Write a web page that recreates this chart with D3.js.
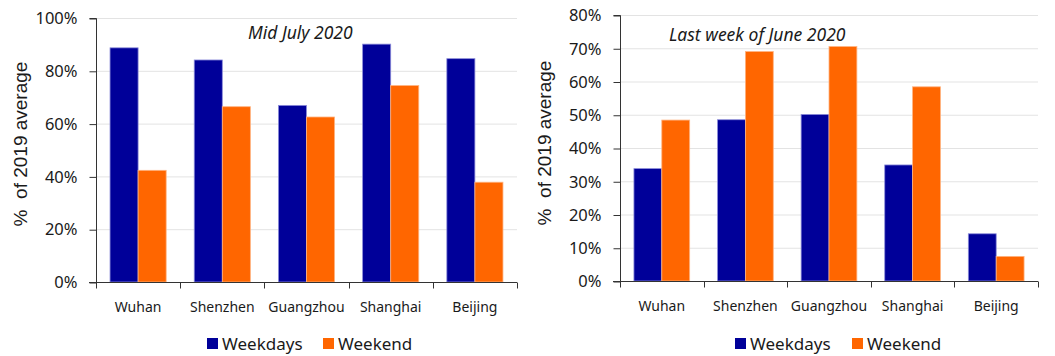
<!DOCTYPE html>
<html>
<head>
<meta charset="utf-8">
<script src="https://cdn.jsdelivr.net/npm/d3@7"></script>
<style>
  html, body { margin: 0; padding: 0; background: #fff; }
  svg { display: block; }
  .tick text { font-family: "Noto Sans", "Open Sans", sans-serif; fill: #1a1a1a; }
</style>
</head>
<body>
<svg id="chart" width="1055" height="356"></svg>
<script>
// Cities shared by both panels
const cities = ["Wuhan", "Shenzhen", "Guangzhou", "Shanghai", "Beijing"];
const seriesNames = ["Weekdays", "Weekend"];

// Mid July 2020, % of 2019 average
const julyWeekdays = [88.7, 84.1, 66.9, 90.1, 84.6];
const julyWeekend  = [42.3, 66.4, 62.5, 74.4, 37.8];

// Last week of June 2020, % of 2019 average
const juneWeekdays = [33.8, 48.5, 50.1, 34.9, 14.2];
const juneWeekend  = [48.4, 69.0, 70.5, 58.4, 7.4];

const julyTicks = [0, 20, 40, 60, 80, 100];
const juneTicks = [0, 10, 20, 30, 40, 50, 60, 70, 80];

const colors = ["#000099", "#ff6600"];
const strokes = ["#8c8cd9", "#ffb380"];

const svg = d3.select("#chart");

function panel(opts) {
  const g = svg.append("g");
  const x = d3.scaleBand().domain(cities).range([opts.x0, opts.x1]).paddingInner(0).paddingOuter(0);
  const y = d3.scaleLinear().domain([0, opts.max]).range([opts.y0, opts.y1]);
  const inner = d3.scaleBand().domain(seriesNames).range([0, x.bandwidth()]).paddingInner(0).paddingOuter(0.5);

  // horizontal gridlines
  g.append("g").selectAll("line").data(opts.ticks.filter(t => t > 0)).join("line")
    .attr("x1", opts.x0).attr("x2", opts.x1)
    .attr("y1", d => y(d) + 0.5).attr("y2", d => y(d) + 0.5)
    .attr("stroke", "#e3e3e3").attr("stroke-width", 1);

  // bars
  const rows = cities.map((c, i) => ({ city: c, vals: [opts.a[i], opts.b[i]] }));
  const grp = g.append("g").selectAll("g").data(rows).join("g")
    .attr("transform", d => `translate(${x(d.city)},0)`);
  grp.selectAll("rect").data(d => d.vals.map((v, k) => ({ v, k }))).join("rect")
    .attr("x", d => inner(seriesNames[d.k]))
    .attr("width", inner.bandwidth())
    .attr("y", d => y(d.v))
    .attr("height", d => y(0) - y(d.v))
    .attr("fill", d => colors[d.k])
    .attr("stroke", d => strokes[d.k])
    .attr("stroke-width", 0.8);

  // y axis
  const ya = g.append("g").attr("transform", `translate(${opts.x0 + 0.5},0)`)
    .call(d3.axisLeft(y).tickValues(opts.ticks).tickFormat(d => d + "%").tickSize(7).tickPadding(12));
  ya.select(".domain").attr("stroke", "#333").attr("d", `M-7,${opts.y1 + 0.5}H0V${opts.y0 + 0.5}`);
  ya.selectAll(".tick line").attr("stroke", "#333").attr("transform", "translate(0,0.5)");
  ya.selectAll(".tick text").attr("font-size", 16.5).attr("dy", "0.35em");

  // x axis with boundary ticks between categories
  const xa = g.append("g").attr("transform", `translate(0,${opts.y0 + 0.5})`);
  xa.append("line").attr("x1", opts.x0 - 7).attr("x2", opts.x1).attr("stroke", "#333");
  const bounds = cities.map(c => x(c)).concat([opts.x1]);
  xa.selectAll("line.b").data(bounds).join("line").attr("class", "b")
    .attr("x1", d => Math.round(d) + 0.5).attr("x2", d => Math.round(d) + 0.5)
    .attr("y1", 0).attr("y2", 6).attr("stroke", "#333");
  xa.selectAll("text").data(cities).join("text")
    .attr("x", d => x(d) + x.bandwidth() / 2).attr("y", 29)
    .attr("text-anchor", "middle")
    .attr("font-family", "Noto Sans, Open Sans, sans-serif")
    .attr("font-size", 14).attr("fill", "#1a1a1a")
    .text(d => d);

  // y axis title
  svg.append("text")
    .attr("transform", `translate(${opts.labelX},${opts.labelY}) rotate(-90)`)
    .attr("text-anchor", "middle")
    .attr("font-family", "Liberation Sans, Arial, sans-serif")
    .attr("font-size", 19).attr("fill", "#1a1a1a")
    .attr("xml:space", "preserve")
    .style("white-space", "pre")
    .text("%  of 2019 average");

  // panel title
  svg.append("text")
    .attr("x", opts.titleX).attr("y", opts.titleY)
    .attr("font-family", "Noto Sans, Open Sans, sans-serif")
    .attr("font-style", "italic")
    .attr("font-size", 17.5).attr("fill", "#1a1a1a")
    .text(opts.title);

  // legend
  const lg = svg.append("g").attr("transform", `translate(${opts.legendX},${opts.legendY})`);
  const offsets = [0, opts.legendGap];
  seriesNames.forEach((s, k) => {
    lg.append("rect").attr("x", offsets[k]).attr("y", -12).attr("width", 11).attr("height", 11).attr("fill", colors[k]);
    lg.append("text").attr("x", offsets[k] + 15).attr("y", 0)
      .attr("font-family", "Noto Sans, Open Sans, sans-serif")
      .attr("font-size", 17).attr("fill", "#1a1a1a")
      .text(s);
  });
}

panel({
  x0: 96, x1: 517, y0: 282, y1: 18, max: 100, ticks: julyTicks,
  a: julyWeekdays, b: julyWeekend,
  labelX: 27, labelY: 144, title: "Mid July 2020", titleX: 248, titleY: 39,
  legendX: 207, legendY: 350, legendGap: 116
});

panel({
  x0: 620, x1: 1038, y0: 281, y1: 15, max: 80, ticks: juneTicks,
  a: juneWeekdays, b: juneWeekend,
  labelX: 551, labelY: 143, title: "Last week of June 2020", titleX: 669, titleY: 41,
  legendX: 735, legendY: 350, legendGap: 117
});
</script>
</body>
</html>
